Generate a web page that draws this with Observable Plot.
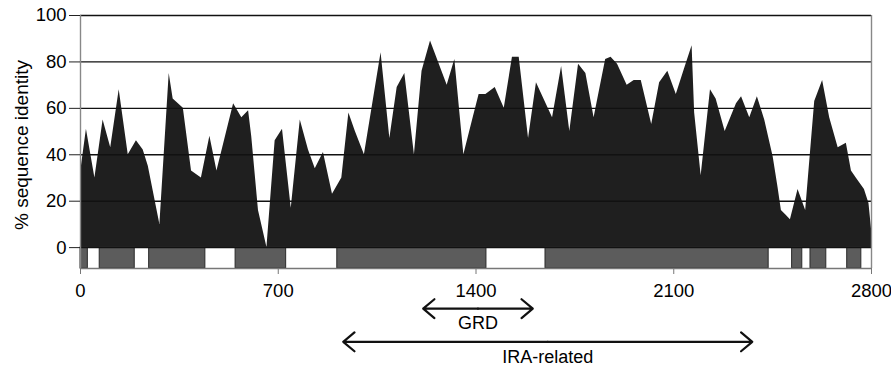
<!DOCTYPE html>
<html><head><meta charset="utf-8">
<script src="https://cdn.jsdelivr.net/npm/d3@7"></script>
<script src="https://cdn.jsdelivr.net/npm/@observablehq/plot@0.6"></script>
<style>body{margin:0;background:#fff} svg{display:block}</style>
</head><body><div id="chart"></div>
<script>
// Residue position along the alignment
const position = [0, 21, 51, 80, 107, 137, 169, 198, 222, 240, 281, 314, 328, 364, 393, 428, 458, 483, 542, 571, 595, 606, 630, 660, 689, 715, 746, 778, 807, 831, 860, 892, 925, 950, 973, 1005, 1064, 1095, 1121, 1148, 1182, 1209, 1239, 1298, 1325, 1357, 1390, 1411, 1435, 1468, 1500, 1529, 1553, 1586, 1614, 1671, 1703, 1732, 1763, 1789, 1818, 1859, 1878, 1901, 1935, 1960, 1985, 2022, 2050, 2079, 2109, 2138, 2165, 2174, 2197, 2230, 2250, 2282, 2322, 2340, 2369, 2396, 2422, 2452, 2469, 2481, 2497, 2513, 2540, 2567, 2599, 2627, 2652, 2682, 2711, 2729, 2746, 2775, 2791, 2800];
// % sequence identity
const identity = [32, 51, 30, 55, 43, 68, 40, 46, 42, 35, 10, 75, 64, 60, 33, 30, 48, 33, 62, 56, 59, 48, 16, 0, 46, 51, 17, 55, 42, 34, 41, 23, 30, 58, 50, 40, 84, 47, 69, 75, 40, 76, 89, 70, 81, 40, 56, 66, 66, 69, 60, 82, 82, 47, 71, 56, 78, 50, 79, 75, 56, 81, 82, 79, 70, 72, 72, 53, 71, 76, 66, 77, 87, 58, 31, 68, 64, 50, 62, 65, 56, 65, 55, 39, 26, 16, 14, 12, 25, 16, 63, 72, 56, 43, 45, 33, 30, 25, 19, 8];
// Domain blocks in the lower track
const segStart = [0, 68, 243, 549, 909, 1646, 2519, 2584, 2714];
const segEnd = [26, 192, 442, 728, 1437, 2436, 2555, 2640, 2764];
const trackBottom = -9;
const trackTop = 0;
// Ticks
const yTicks = [0, 20, 40, 60, 80, 100];
const xTicks = [0, 700, 1400, 2100, 2800];
// Region annotations
const annLabel = ["GRD", "IRA-related"];
const annStart = [1213, 930];
const annEnd = [1601, 2378];
const annLevel = [-26.3, -40.6];

const profile = position.map((p, i) => ({p, v: identity[i]}));
const segments = segStart.map((s, i) => ({s, e: segEnd[i]}));
const ann = annLabel.map((l, i) => ({label: l, a: annStart[i], b: annEnd[i], mid: (annStart[i] + annEnd[i]) / 2, lev: annLevel[i]}));

const font = '"Liberation Sans", Arial, Helvetica, sans-serif';
const chart = Plot.plot({
  width: 891, height: 366,
  marginTop: 15, marginBottom: 98, marginLeft: 80, marginRight: 20,
  style: {fontFamily: font, fontSize: "18px", background: "#fff", color: "#000", overflow: "visible"},
  x: {domain: [xTicks[0], xTicks[xTicks.length - 1]]},
  y: {domain: [trackBottom, yTicks[yTicks.length - 1]]},
  marks: [
    Plot.areaY(profile, {x: "p", y: "v", fill: "#1f1f1f", curve: "linear"}),
    Plot.rect(segments, {x1: "s", x2: "e", y1: trackBottom, y2: trackTop, fill: "#5c5c5c", stroke: "#2a2a2a", strokeWidth: 1}),
    Plot.ruleY(yTicks, {stroke: "#111", strokeWidth: 1.4}),
    Plot.ruleY([trackBottom], {stroke: "#777", strokeWidth: 1.4}),
    Plot.ruleX([xTicks[0], xTicks[xTicks.length - 1]], {stroke: "#888", strokeWidth: 1.4}),
    Plot.axisY(yTicks, {tickSize: 11, tickPadding: 3, label: null, stroke: "#222", fontSize: 18.5, tickFormat: d => String(d)}),
    Plot.axisX(xTicks, {tickSize: 6, tickPadding: 9, label: null, stroke: "#777", fontSize: 18.5, tickFormat: d => String(d)}),
    Plot.text(["% sequence identity"], {frameAnchor: "left", textAnchor: "middle", rotate: -90, dx: -59, dy: 3, fontSize: 19}),
    Plot.arrow(ann, {x1: "mid", x2: "a", y1: "lev", y2: "lev", stroke: "#111", strokeWidth: 2.2, headLength: 10, headAngle: 80}),
    Plot.arrow(ann, {x1: "mid", x2: "b", y1: "lev", y2: "lev", stroke: "#111", strokeWidth: 2.2, headLength: 10, headAngle: 80}),
    Plot.text(ann, {x: "mid", y: "lev", text: "label", dy: 15, fontSize: 18})
  ]
});
document.getElementById("chart").append(chart);
</script>
</body></html>
